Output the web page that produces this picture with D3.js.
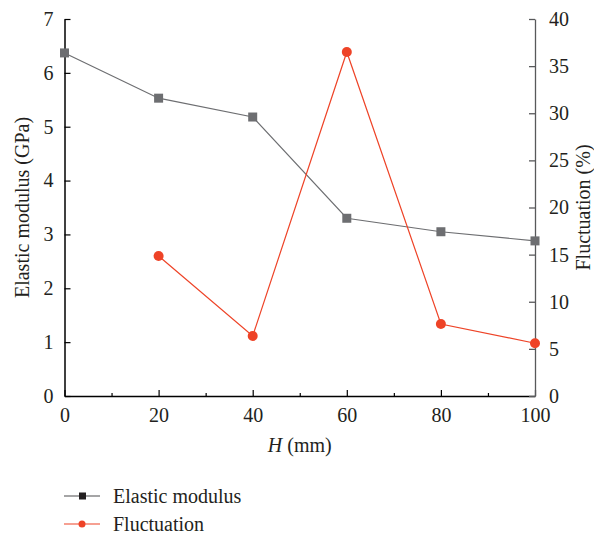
<!DOCTYPE html>
<html>
<head>
<meta charset="utf-8">
<script src="https://cdn.jsdelivr.net/npm/d3@7"></script>
<style>
  body { margin: 0; background: #fff; }
  text { font-family: "Liberation Serif", "DejaVu Serif", serif; fill: #231f20; }
</style>
</head>
<body>
<div id="chart"></div>
<script>
// data
const hValues = [0, 20, 40, 60, 80, 100];
const modulus = [6.37, 5.53, 5.18, 3.30, 3.05, 2.88];
const fluctH = [20, 40, 60, 80, 100];
const fluctuation = [14.85, 6.37, 36.5, 7.64, 5.6];
const xTicks = [0, 20, 40, 60, 80, 100];
const leftTicks = [0, 1, 2, 3, 4, 5, 6, 7];
const rightTicks = [0, 5, 10, 15, 20, 25, 30, 35, 40];

const width = 594, height = 536;
const margin = {top: 19, right: 59, bottom: 140, left: 64.5};
const grey = "#6d6e71", red = "#ee4327";
const fs = 20;

const svg = d3.select("#chart").append("svg")
    .attr("width", width)
    .attr("height", height);

const x = d3.scaleLinear().domain([0, 100]).range([margin.left, width - margin.right]);
const yL = d3.scaleLinear().domain([0, 7]).range([height - margin.bottom, margin.top]);
const yR = d3.scaleLinear().domain([0, 40]).range([height - margin.bottom, margin.top]);

// x axis with inward ticks + minor ticks
const xMinor = svg.append("g")
    .attr("transform", `translate(0,${yL(0)})`)
    .call(d3.axisBottom(x).tickValues(d3.range(10, 100, 20)).tickSize(-3).tickFormat(""))
    .call(g => g.select(".domain").remove());
xMinor.selectAll("line").attr("stroke-width", 1.2);
svg.append("g")
    .attr("transform", `translate(0,${yL(0)})`)
    .call(d3.axisBottom(x).tickValues(xTicks).tickSize(-6).tickSizeOuter(0).tickPadding(12).tickFormat(d3.format("d")))
    .call(g => g.selectAll("text").attr("font-size", fs))
    .call(g => g.selectAll("line").attr("stroke-width", 1.2))
    .call(g => g.select(".domain").attr("stroke-width", 1.5));

// left axis
svg.append("g")
    .attr("transform", `translate(${margin.left},0)`)
    .call(d3.axisLeft(yL).tickValues(leftTicks).tickSize(-6).tickSizeOuter(0).tickPadding(11).tickFormat(d3.format("d")))
    .call(g => g.selectAll("text").attr("font-size", fs))
    .call(g => g.selectAll("line").attr("stroke-width", 1.2))
    .call(g => g.select(".domain").attr("stroke-width", 1.5));

// right axis
svg.append("g")
    .attr("transform", `translate(${width - margin.right},0)`)
    .call(d3.axisRight(yR).tickValues(rightTicks).tickSize(-6).tickSizeOuter(0).tickPadding(14).tickFormat(d3.format("d")))
    .call(g => g.selectAll("text").attr("font-size", fs))
    .call(g => g.selectAll("line,.domain").attr("stroke", "#58595b").attr("stroke-width", 1.3));

// axis titles
svg.append("text")
    .attr("transform", `translate(29,${(yL(0) + yL(7)) / 2}) rotate(-90)`)
    .attr("text-anchor", "middle")
    .attr("font-size", fs)
    .text("Elastic modulus (GPa)");
svg.append("text")
    .attr("transform", `translate(590,${(yL(0) + yL(7)) / 2}) rotate(-90)`)
    .attr("text-anchor", "middle")
    .attr("font-size", fs)
    .text("Fluctuation (%)");
const xt = svg.append("text")
    .attr("x", (x(0) + x(100)) / 2)
    .attr("y", 452)
    .attr("text-anchor", "middle")
    .attr("font-size", fs);
xt.append("tspan").attr("font-style", "italic").text("H");
xt.append("tspan").text(" (mm)");

// elastic modulus series
const mData = hValues.map((h, i) => [h, modulus[i]]);
svg.append("path")
    .datum(mData)
    .attr("fill", "none")
    .attr("stroke", grey)
    .attr("stroke-width", 1.2)
    .attr("d", d3.line().x(d => x(d[0])).y(d => yL(d[1])));
svg.selectAll(".sq")
    .data(mData)
    .enter().append("rect")
    .attr("x", d => x(d[0]) - 4.5)
    .attr("y", d => yL(d[1]) - 4.5)
    .attr("width", 9)
    .attr("height", 9)
    .attr("fill", grey);

// fluctuation series
const fData = fluctH.map((h, i) => [h, fluctuation[i]]);
svg.append("path")
    .datum(fData)
    .attr("fill", "none")
    .attr("stroke", red)
    .attr("stroke-width", 1.2)
    .attr("d", d3.line().x(d => x(d[0])).y(d => yR(d[1])));
svg.selectAll(".dot")
    .data(fData)
    .enter().append("circle")
    .attr("cx", d => x(d[0]))
    .attr("cy", d => yR(d[1]))
    .attr("r", 5)
    .attr("fill", red);

// legend
const legend = svg.selectAll(".legend")
    .data([{name: "Elastic modulus", color: "#4d4d4f", shape: "square"},
           {name: "Fluctuation", color: red, shape: "circle"}])
    .enter().append("g")
    .attr("transform", (d, i) => `translate(64,${496 + i * 28})`);
legend.append("line")
    .attr("x1", 0).attr("x2", 36)
    .attr("stroke", d => d.color)
    .attr("stroke-width", 1.2);
legend.filter(d => d.shape === "square").append("rect")
    .attr("x", 15).attr("y", -3.5).attr("width", 7).attr("height", 7)
    .attr("fill", "#231f20");
legend.filter(d => d.shape === "circle").append("circle")
    .attr("cx", 18).attr("r", 3.5)
    .attr("fill", red);
legend.append("text")
    .attr("x", 49)
    .attr("dy", "0.35em")
    .attr("font-size", fs)
    .text(d => d.name);
</script>
</body>
</html>
